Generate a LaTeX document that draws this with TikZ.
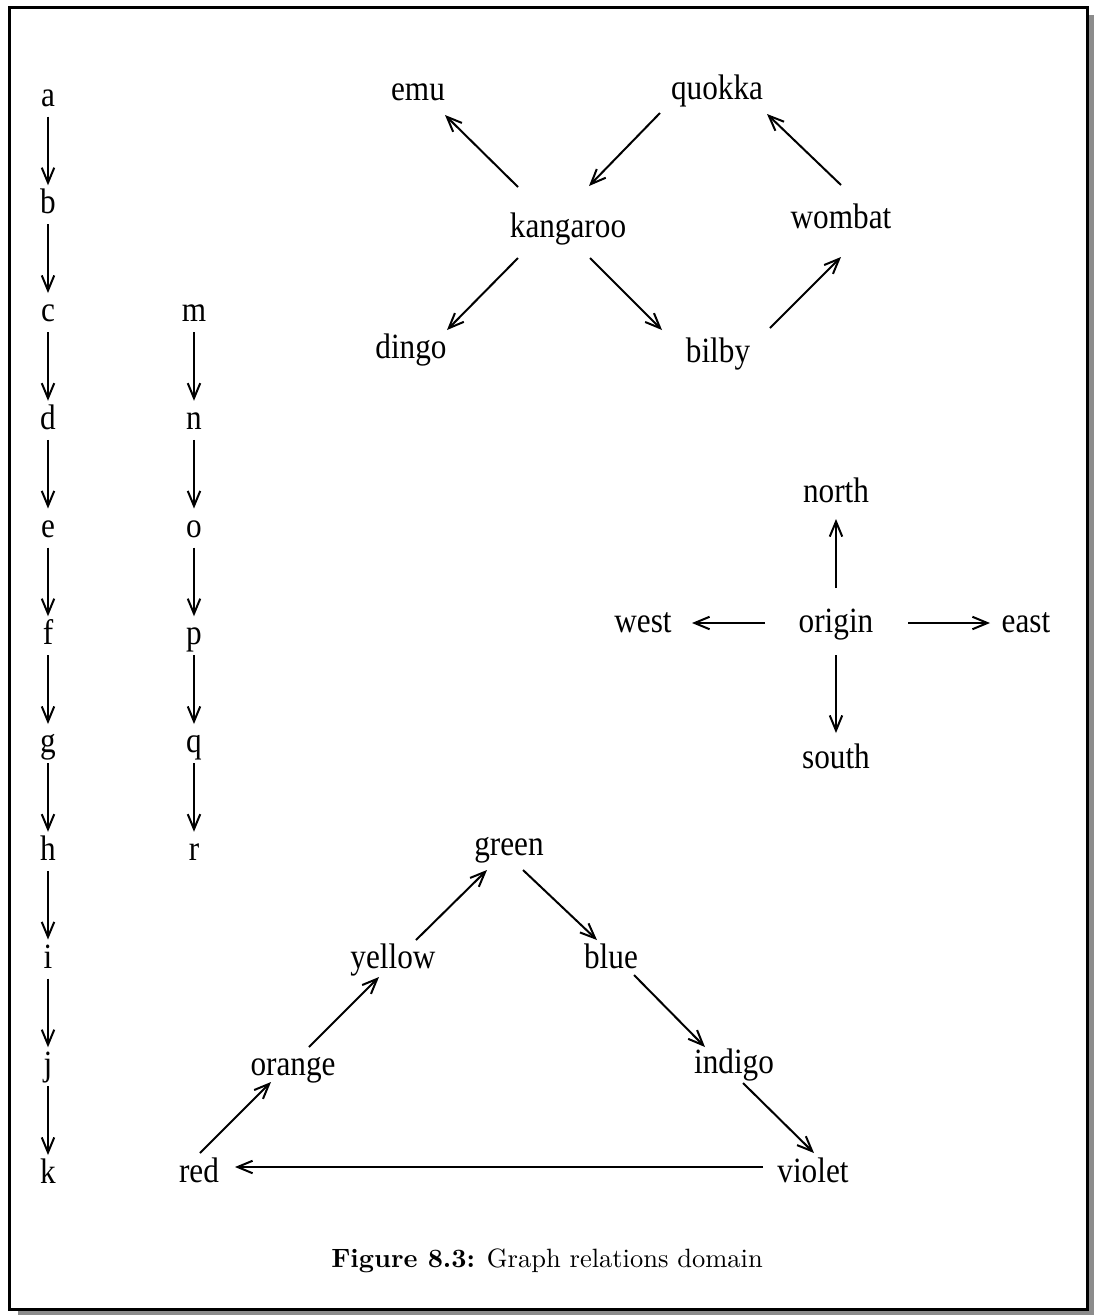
\documentclass[tikz,border=0pt]{standalone}
\usepackage{fontspec}
\usepackage{tikz}
\usetikzlibrary{arrows.meta,positioning}
\newfontfamily\animalfont[FakeStretch=0.88]{Liberation Serif}

\begin{document}
\begin{tikzpicture}[x=0.4pt,y=-0.4pt,node distance=43.1pt,on grid,
    >={Straight Barb[length=6pt,width=5pt]},
    thing/.style={inner sep=0pt,text height=10pt,text depth=3pt,
      font=\animalfont\fontsize{14.2pt}{17pt}\selectfont},
    link/.style={->,line width=0.8pt,shorten <=1pt,shorten >=1.2pt},
    diag/.style={->,line width=0.8pt}]
   \useasboundingbox (0,0) rectangle (1094,1315);
   % frame with its shadow
   \fill[black!45] (18,15) rectangle (1094,1315);
   \draw[line width=1.2pt,fill=white] (9,7) rectangle (1087,1309);

   % the two chains
   \node[thing,anchor=base] (a) at (48,106) {a};
   \node[thing] (b) [below=of a] {b};
   \node[thing] (c) [below=of b] {c};
   \node[thing] (d) [below=of c] {d};
   \node[thing] (e) [below=of d] {e};
   \node[thing] (f) [below=of e] {f};
   \node[thing] (g) [below=of f] {g};
   \node[thing] (h) [below=of g] {h};
   \node[thing] (i) [below=of h] {i};
   \node[thing] (j) [below=of i] {j};
   \node[thing] (k) [below=of j] {k};
   \node[thing] (m) [right=58.4pt of c] {m};
   \node[thing] (n) [below=of m] {n};
   \node[thing] (o) [below=of n] {o};
   \node[thing] (p) [below=of o] {p};
   \node[thing] (q) [below=of p] {q};
   \node[thing] (r) [below=of q] {r};
   \path[link] (a) edge (b) (b) edge (c) (c) edge (d) (d) edge (e)
     (e) edge (f) (f) edge (g) (g) edge (h) (h) edge (i) (i) edge (j)
     (j) edge (k)
     (m) edge (n) (n) edge (o) (o) edge (p) (p) edge (q) (q) edge (r);

   % animals
   \node[thing,anchor=base] (kangaroo) at (568,237) {kangaroo};
   \node[thing,anchor=base] (emu) at (418,100) {emu};
   \node[thing,anchor=base] (quokka) at (717,99) {quokka};
   \node[thing,anchor=base] (wombat) at (841,228) {wombat};
   \node[thing,anchor=base] (dingo) at (411,358) {dingo};
   \node[thing,anchor=base] (bilby) at (718,362) {bilby};
   \path[diag]
     ([shift={(-50,-50)}]kangaroo.base) edge ([shift={(27,15)}]emu.base)
     ([shift={(-57,14)}]quokka.base) edge ([shift={(21,-51)}]kangaroo.base)
     ([shift={(0,-43)}]wombat.base) edge ([shift={(50,15)}]quokka.base)
     ([shift={(-50,21)}]kangaroo.base) edge ([shift={(36,-28)}]dingo.base)
     ([shift={(22,21)}]kangaroo.base) edge ([shift={(-56,-32)}]bilby.base)
     ([shift={(52,-34)}]bilby.base) edge ([shift={(0,29)}]wombat.base);

   % compass
   \node[thing,anchor=base] (origin) at (836,632) {origin};
   \node[thing] (north) [above=52pt of origin] {north};
   \node[thing] (south) [below=54.4pt of origin] {south};
   \node[thing] (west) [left=77.2pt of origin] {west};
   \node[thing] (east) [right=76pt of origin] {east};
   \path[diag]
     ([shift={(0,-44)}]origin.base) edge ([shift={(0,17)}]north.base)
     ([shift={(-71,-9)}]origin.base) edge ([shift={(49,-9)}]west.base)
     ([shift={(72,-9)}]origin.base) edge ([shift={(-36,-9)}]east.base)
     ([shift={(0,23)}]origin.base) edge ([shift={(0,-35)}]south.base);

   % colours
   \node[thing,anchor=base] (green) at (509,855) {green};
   \node[thing,anchor=base] (yellow) at (393,968) {yellow};
   \node[thing,anchor=base] (blue) at (611,968) {blue};
   \node[thing,anchor=base] (orange) at (293,1075) {orange};
   \node[thing,anchor=base] (indigo) at (734,1073) {indigo};
   \node[thing,anchor=base] (red) at (199,1182) {red};
   \node[thing,anchor=base] (violet) at (813,1182) {violet};
   \path[diag]
     ([shift={(1,-29)}]red.base) edge ([shift={(-22,7)}]orange.base)
     ([shift={(16,-28)}]orange.base) edge ([shift={(-14,9)}]yellow.base)
     ([shift={(23,-28)}]yellow.base) edge ([shift={(-22,15)}]green.base)
     ([shift={(14,15)}]green.base) edge ([shift={(-14,-28)}]blue.base)
     ([shift={(23,7)}]blue.base) edge ([shift={(-29,-26)}]indigo.base)
     ([shift={(9,10)}]indigo.base) edge ([shift={(1,-29)}]violet.base)
     ([shift={(-50,-15)}]violet.base) edge ([shift={(36,-15)}]red.base);

   \node[anchor=base,font=\fontsize{10.6pt}{13pt}\selectfont] (caption) at (547,1267)
     {\textbf{Figure 8.3:} Graph relations domain};
\end{tikzpicture}
\end{document}
